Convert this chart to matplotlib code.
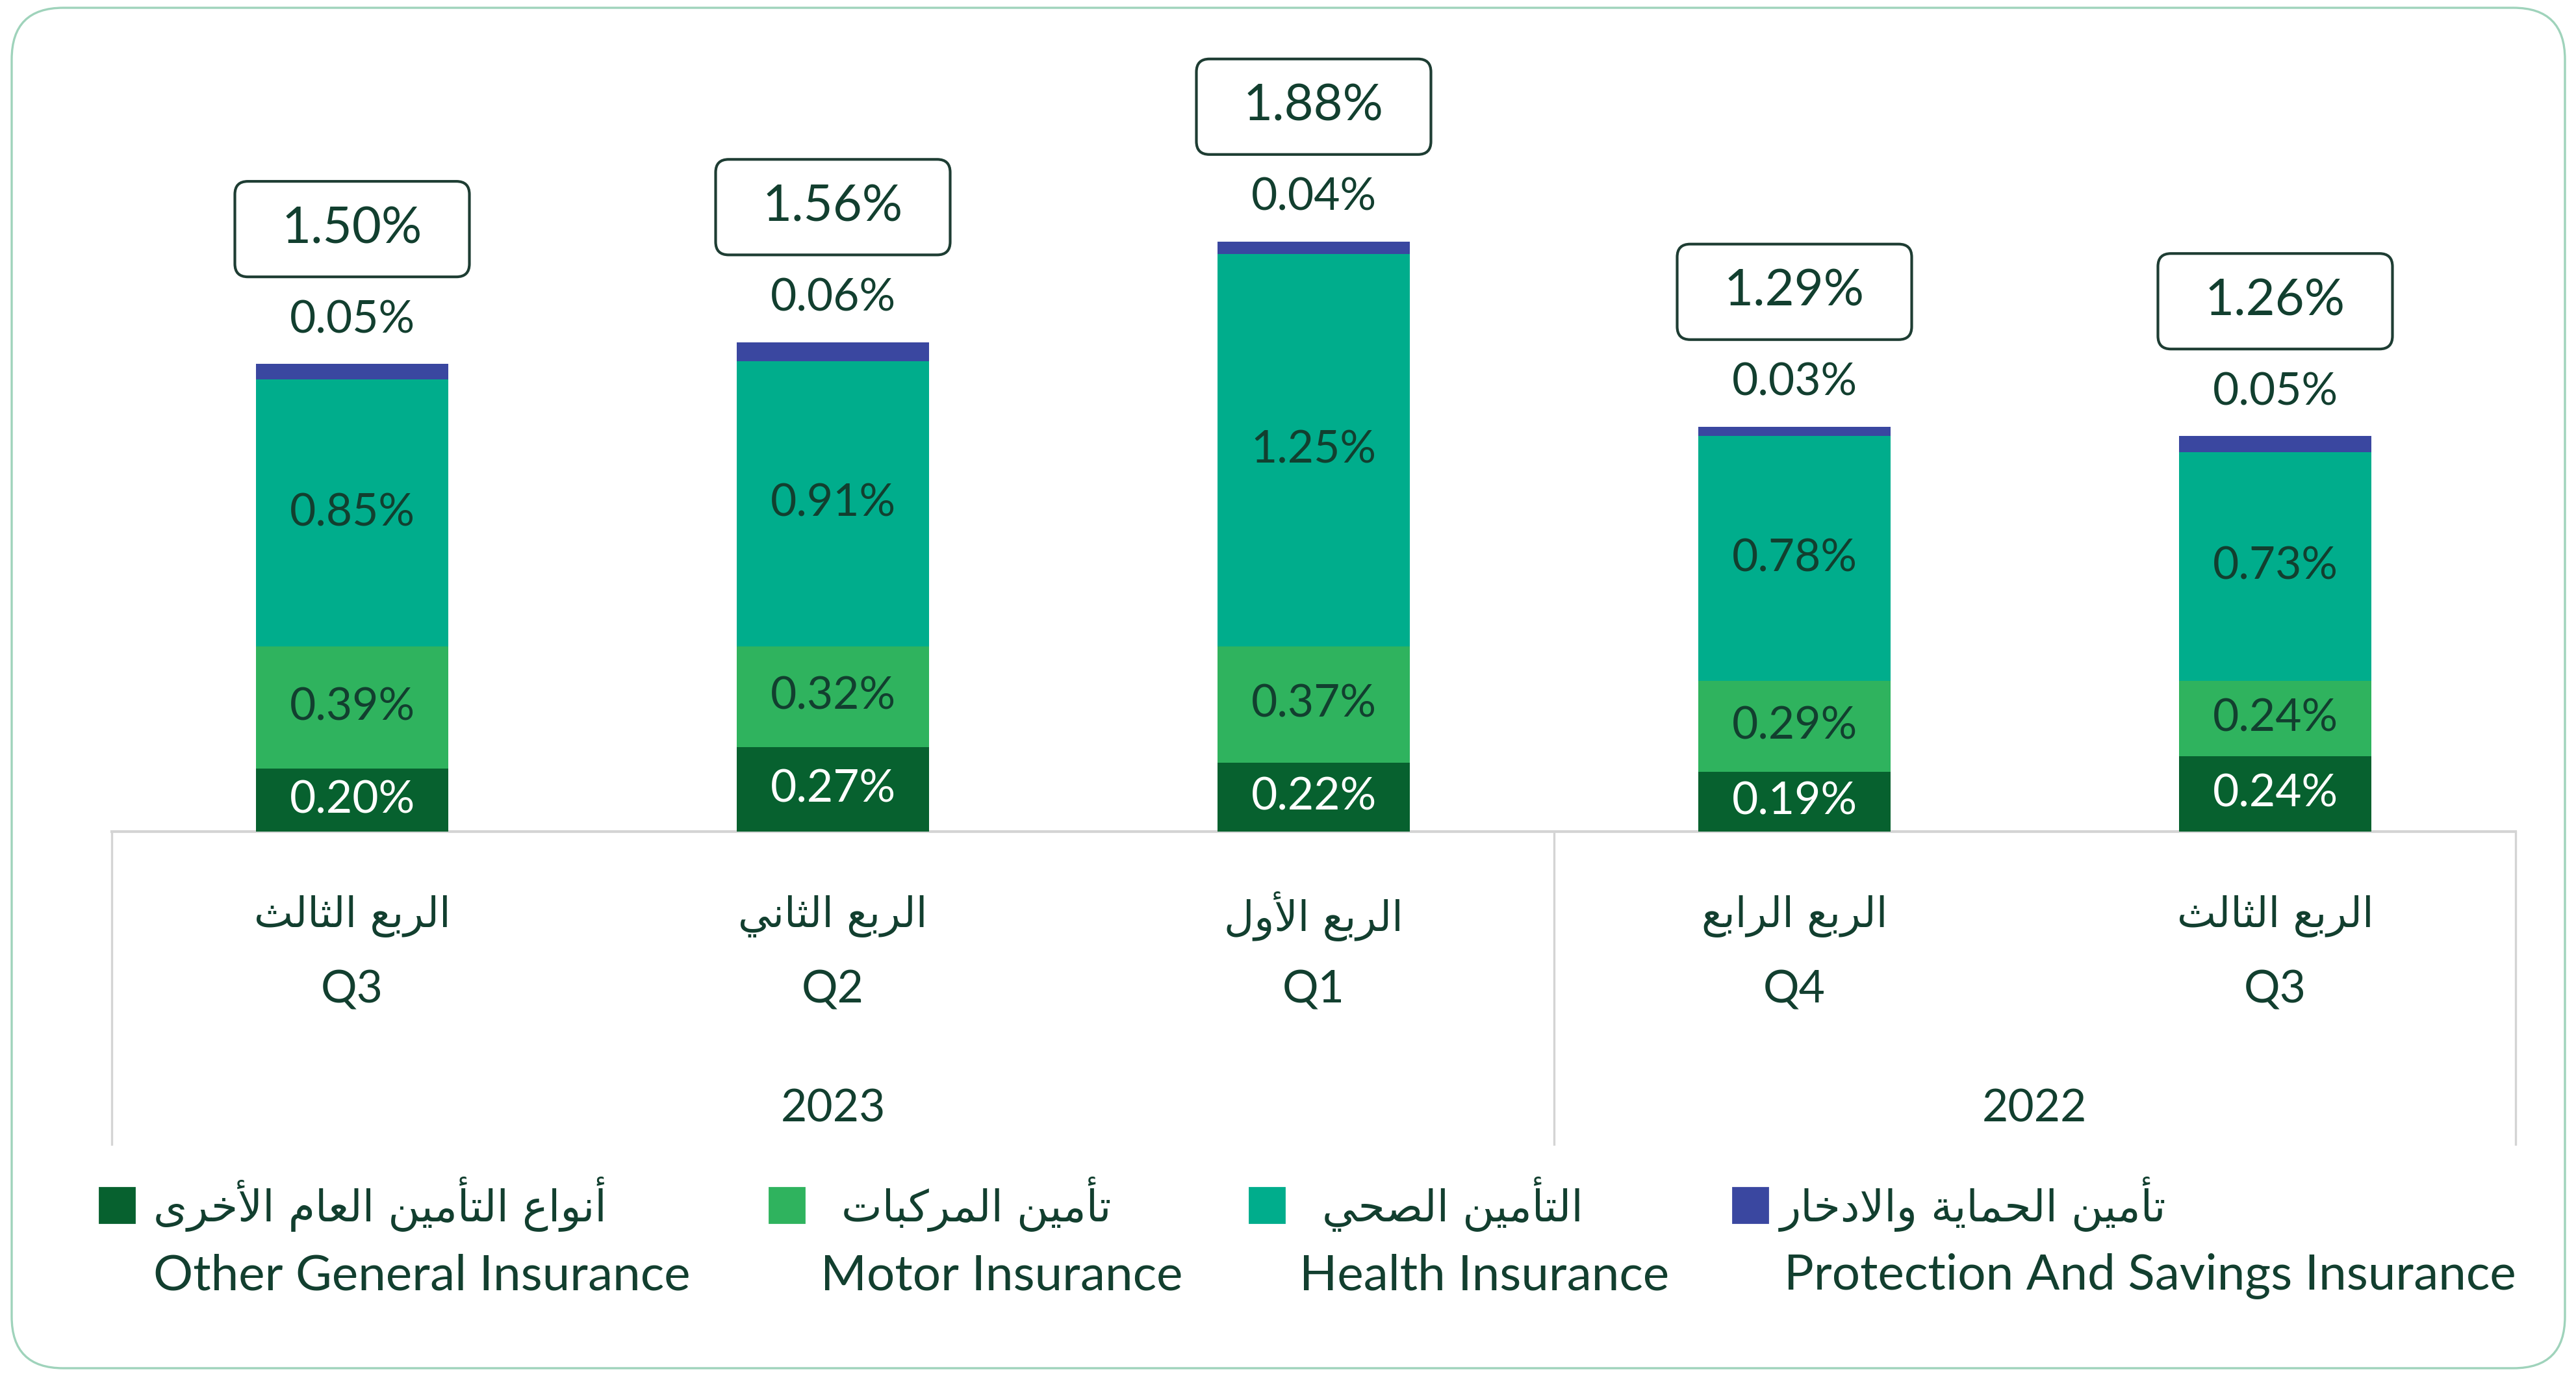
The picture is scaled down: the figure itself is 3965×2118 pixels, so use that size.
import matplotlib.pyplot as plt
import matplotlib.transforms as mtransforms
from matplotlib.patches import FancyBboxPatch, Rectangle

# data (percent)
quarters_ar = ['الربع الثالث', 'الربع الثاني', 'الربع الأول', 'الربع الرابع', 'الربع الثالث']
quarters = ['Q3', 'Q2', 'Q1', 'Q4', 'Q3']
years = ['2023', '2022']
year_groups = [[0, 1, 2], [3, 4]]

other_general = [0.20, 0.27, 0.22, 0.19, 0.24]
motor = [0.39, 0.32, 0.37, 0.29, 0.24]
health = [0.85, 0.91, 1.25, 0.78, 0.73]
protection = [0.05, 0.06, 0.04, 0.03, 0.05]
totals = [1.50, 1.56, 1.88, 1.29, 1.26]

series_en = ['Other General Insurance', 'Motor Insurance', 'Health Insurance',
             'Protection And Savings Insurance']
series_ar = ['أنواع التأمين العام الأخرى', 'تأمين المركبات', 'التأمين الصحي',
             'تأمين الحماية والادخار']
colors = ['#07612f', '#2fb35e', '#00ad8c', '#3a47a0']
label_colors = ['white', '#123f2f', '#123f2f', '#123f2f']

TXT = '#123f2f'
GRID = '#d4d4d4'
LATIN = ['Lato', 'DejaVu Sans']
ARABIC = ['DejaVu Sans']

# matplotlib has no arabic shaping, so pick presentation forms by hand
FORMS = {
    'ا': (0xFE8D, 2), 'أ': (0xFE83, 2), 'ب': (0xFE8F, 4), 'ة': (0xFE93, 2),
    'ت': (0xFE95, 4), 'ث': (0xFE99, 4), 'ح': (0xFEA1, 4), 'خ': (0xFEA5, 4),
    'د': (0xFEA9, 2), 'ر': (0xFEAD, 2), 'ص': (0xFEB9, 4), 'ع': (0xFEC9, 4),
    'ك': (0xFED9, 4), 'ل': (0xFEDD, 4), 'م': (0xFEE1, 4), 'ن': (0xFEE5, 4),
    'و': (0xFEED, 2), 'ى': (0xFEEF, 2), 'ي': (0xFEF1, 4),
}
LAM_ALEF = {'ا': (0xFEFB, 2), 'أ': (0xFEF7, 2)}


def shape_ar(text):
    chars = []
    i = 0
    while i < len(text):
        if text[i] == 'ل' and i + 1 < len(text) and text[i + 1] in LAM_ALEF:
            chars.append(LAM_ALEF[text[i + 1]])
            i += 2
        else:
            chars.append(FORMS.get(text[i], text[i]))
            i += 1
    out = []
    for k, c in enumerate(chars):
        if isinstance(c, str):
            out.append(c)
            continue
        base, n = c
        prev = chars[k - 1] if k > 0 else None
        nxt = chars[k + 1] if k + 1 < len(chars) else None
        jp = isinstance(prev, tuple) and prev[1] == 4
        jn = n == 4 and isinstance(nxt, tuple)
        off = 3 if (jp and jn) else 1 if jp else 2 if jn else 0
        out.append(chr(base + off))
    return ''.join(reversed(out))


W, H = 3966, 2118
fig = plt.figure(figsize=(W / 200, H / 200), dpi=200)

# outer rounded frame
fig.add_artist(FancyBboxPatch((18 / W, 12 / H), (W - 36) / W, (H - 24) / H,
                              boxstyle='round,pad=0,rounding_size=0.02',
                              mutation_aspect=W / H,
                              transform=fig.transFigure, facecolor='white',
                              edgecolor='#9fd3bb', linewidth=1.2, zorder=0))

ax = fig.add_axes([172 / W, 1 - 1280 / H, 3700 / W, 2.6 * 483 / H])
ax.set_xlim(-0.5, 4.5)
ax.set_ylim(0, 2.6)
ax.axis('off')

x = list(range(len(quarters)))
series = [other_general, motor, health, protection]
bottom = [0.0] * len(x)
for s, vals in enumerate(series):
    ax.bar(x, vals, width=0.4, bottom=bottom, color=colors[s], zorder=2)
    for i, v in enumerate(vals):
        if s < 3:
            ax.text(i, bottom[i] + v / 2, f'{v:.2f}%', ha='center', va='center',
                    fontsize=25, color=label_colors[s], family=LATIN, zorder=3)
        else:
            ax.text(i, bottom[i] + v + 0.14, f'{v:.2f}%', ha='center', va='center',
                    fontsize=25, color=TXT, family=LATIN, zorder=3)
    bottom = [b + v for b, v in zip(bottom, vals)]

# total boxes (fixed size in inches, centred on a data point)
for i, t in enumerate(totals):
    cy = bottom[i] + 0.43
    tr = fig.dpi_scale_trans + mtransforms.ScaledTranslation(i, cy, ax.transData)
    box = FancyBboxPatch((-361 / 400, -147 / 400), 361 / 200, 147 / 200,
                         boxstyle='round,pad=0,rounding_size=0.1',
                         transform=tr, facecolor='white', edgecolor='#1e3d33',
                         linewidth=1.5, zorder=3, clip_on=False)
    ax.add_patch(box)
    ax.text(i, cy, f'{t:.2f}%', ha='center', va='center', fontsize=28,
            color=TXT, family=LATIN, zorder=4)

# category table below the bars
ax.plot([-0.5, 4.5], [0, 0], color=GRID, lw=1.5, clip_on=False, zorder=1)
edges = [-0.5] + [g[-1] + 0.5 for g in year_groups]
ax.vlines(edges, -1.0, 0, color=GRID, lw=1.2, clip_on=False, zorder=1)
for i in x:
    ax.text(i, -0.27, shape_ar(quarters_ar[i]), ha='center', va='center',
            fontsize=23, color=TXT, family=ARABIC)
    ax.text(i, -0.505, quarters[i], ha='center', va='center',
            fontsize=25, color=TXT, family=LATIN)
for yr, grp in zip(years, year_groups):
    ax.text(sum(grp) / len(grp), -0.884, yr, ha='center', va='center',
            fontsize=25, color=TXT, family=LATIN)

# legend
sq_x = [153, 1184, 1923, 2667]
ar_x = [236, 1295, 2035, 2740]
en_x = [236, 1263, 2000, 2746]
for k in range(4):
    fig.add_artist(Rectangle((sq_x[k] / W, 1 - 1882 / H), 54 / W, 54 / H,
                             transform=fig.transFigure, color=colors[k]))
    fig.text(ar_x[k] / W, 1 - 1853 / H, shape_ar(series_ar[k]), ha='left',
             va='center', fontsize=24, color=TXT, family=ARABIC)
    fig.text(en_x[k] / W, 1 - 1964 / H, series_en[k], ha='left',
             va='center', fontsize=27.5, color=TXT, family=LATIN)

fig.savefig('out.png', dpi=200, facecolor='white')
